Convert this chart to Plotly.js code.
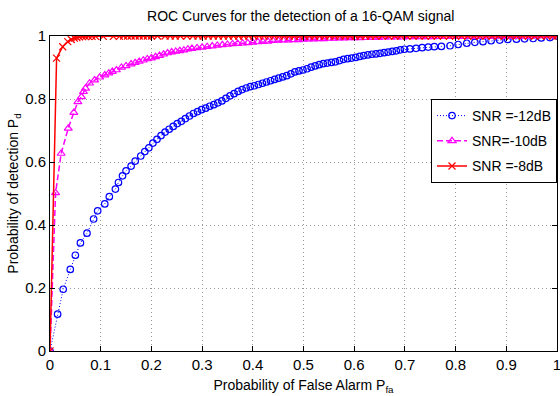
<!DOCTYPE html>
<html>
<head>
<meta charset="utf-8">
<script src="https://cdn.plot.ly/plotly-3.0.1.min.js"></script>
<style>html,body{margin:0;padding:0;background:#fff;}#chart{width:560px;height:396px;}</style>
</head>
<body>
<div id="chart"></div>
<script>
// SNR = -12 dB
const pfa12 = [0,0.015,0.026,0.040,0.050,0.060,0.073,0.086,0.094,0.108,0.117,0.129,0.135,0.143,0.150,0.160,0.168,0.179,0.187,0.195,0.203,0.211,0.219,0.227,0.235,0.243,0.251,0.259,0.267,0.275,0.283,0.291,0.299,0.307,0.315,0.323,0.331,0.339,0.347,0.355,0.363,0.371,0.379,0.387,0.395,0.403,0.411,0.419,0.427,0.435,0.443,0.451,0.459,0.467,0.475,0.483,0.491,0.499,0.507,0.515,0.523,0.531,0.539,0.547,0.555,0.563,0.571,0.579,0.587,0.595,0.603,0.611,0.619,0.627,0.635,0.643,0.651,0.659,0.667,0.675,0.683,0.691,0.699,0.710,0.722,0.734,0.746,0.758,0.772,0.789,0.805,0.822,0.838,0.854,0.870,0.887,0.903,0.920,0.936,0.953,0.969,0.986,1.000];
const pd12 = [0,0.117,0.196,0.259,0.304,0.343,0.374,0.419,0.445,0.467,0.490,0.514,0.535,0.556,0.572,0.587,0.603,0.619,0.633,0.645,0.660,0.672,0.684,0.695,0.704,0.713,0.722,0.729,0.738,0.746,0.754,0.760,0.766,0.771,0.777,0.782,0.788,0.794,0.802,0.810,0.817,0.824,0.830,0.835,0.839,0.842,0.846,0.850,0.854,0.858,0.862,0.866,0.870,0.874,0.880,0.886,0.889,0.892,0.896,0.901,0.905,0.909,0.912,0.914,0.916,0.918,0.922,0.926,0.928,0.930,0.932,0.935,0.938,0.940,0.942,0.943,0.945,0.947,0.949,0.951,0.953,0.956,0.958,0.959,0.961,0.963,0.965,0.966,0.967,0.969,0.973,0.977,0.980,0.982,0.985,0.987,0.989,0.990,0.991,0.992,0.994,0.995,1.000];

// SNR = -10 dB
const pfa10 = [0,0.011,0.022,0.036,0.047,0.055,0.062,0.066,0.070,0.078,0.088,0.098,0.108,0.116,0.123,0.131,0.141,0.150,0.160,0.168,0.176,0.184,0.192,0.200,0.208,0.216,0.224,0.232,0.240,0.248,0.256,0.264,0.272,0.280,0.290,0.300,0.310,0.320,0.330,0.340,0.350,0.360,0.370,0.380,0.390,0.400,0.410,0.420,0.430,0.440,0.450,0.460,0.470,0.480,0.490,0.500,0.510,0.520,0.530,0.540,0.550,0.560,0.570,0.580,0.590,0.600,0.612,0.624,0.636,0.648,0.660,0.672,0.684,0.696,0.708,0.720,0.732,0.744,0.756,0.768,0.780,0.792,0.804,0.816,0.828,0.840,0.852,0.864,0.876,0.888,0.900,0.912,0.924,0.936,0.948,0.960,0.972,0.984,1.000];
const pd10 = [0,0.502,0.627,0.707,0.757,0.791,0.807,0.823,0.834,0.850,0.860,0.869,0.876,0.882,0.887,0.892,0.900,0.905,0.911,0.915,0.919,0.923,0.927,0.930,0.934,0.938,0.942,0.946,0.949,0.951,0.953,0.955,0.958,0.960,0.962,0.964,0.966,0.968,0.970,0.972,0.973,0.975,0.976,0.977,0.978,0.980,0.981,0.982,0.983,0.985,0.986,0.987,0.987,0.988,0.988,0.989,0.990,0.990,0.991,0.991,0.992,0.992,0.993,0.993,0.994,0.994,0.994,0.995,0.995,0.995,0.996,0.996,0.996,0.996,0.997,0.997,0.997,0.997,0.997,0.998,0.998,0.998,0.998,0.998,0.998,0.998,0.999,0.999,0.999,0.999,0.999,0.999,0.999,0.999,0.999,1.000,1.000,1.000,1.000];

// SNR = -8 dB
const pfa8 = [0,0.013,0.025,0.035,0.042,0.048,0.053,0.058,0.064,0.070,0.076,0.083,0.090,0.105,0.125,0.137,0.145,0.153,0.160,0.168,0.176,0.184,0.192,0.200,0.212,0.227,0.237,0.247,0.257,0.270,0.282,0.292,0.302,0.312,0.322,0.332,0.342,0.352,0.362,0.372,0.382,0.392,0.402,0.412,0.422,0.432,0.442,0.452,0.462,0.472,0.482,0.492,0.502,0.512,0.522,0.532,0.542,0.552,0.562,0.572,0.582,0.592,0.602,0.612,0.622,0.632,0.642,0.655,0.668,0.680,0.692,0.704,0.716,0.728,0.740,0.752,0.764,0.776,0.788,0.800,0.812,0.824,0.836,0.848,0.860,0.872,0.884,0.896,0.908,0.920,0.932,0.944,0.956,0.968,0.980,0.992,1.000];
const pd8 = [0,0.930,0.966,0.982,0.989,0.993,0.995,0.997,0.998,0.998,0.999,0.999,0.999,0.999,0.999,0.999,1,1,1,1,1,1,1,1,1,1,1,1,1,1,1,1,1,1,1,1,1,1,1,1,1,1,1,1,1,1,1,1,1,1,1,1,1,1,1,1,1,1,1,1,1,1,1,1,1,1,1,1,1,1,1,1,1,1,1,1,1,1,1,1,1,1,1,1,1,1,1,1,1,1,1,1,1,1,1,1,1];

const seriesNames = ['SNR =-12dB', 'SNR=-10dB', 'SNR =-8dB'];
const titleText = 'ROC Curves for the detection of a 16-QAM signal';
const xTitle = 'Probability of False Alarm P<sub>fa</sub>';
const yTitle = 'Probability of detection P<sub>d</sub>';

const FONT = '"Liberation Sans", Arial, Helvetica, sans-serif';

const traces = [
  {x: pfa12, y: pd12, name: seriesNames[0], legendgroup: 'a', type: 'scatter', mode: 'lines+markers',
   line: {color: '#0000ff', width: 1, dash: '1px,2px'},
   marker: {symbol: 'circle-open', size: 6.5, color: '#0000ff', line: {width: 1.2, color: '#0000ff'}}},
  {x: pfa10, y: pd10, name: seriesNames[1], legendgroup: 'b', type: 'scatter', mode: 'lines+markers',
   line: {color: '#ff00ff', width: 1.5, dash: '6px,3px'},
   marker: {symbol: 'triangle-up-open', size: 7, color: '#ff00ff', line: {width: 1.2, color: '#ff00ff'}}},
  {x: pfa8, y: pd8, name: seriesNames[2], legendgroup: 'c', type: 'scatter', mode: 'lines+markers',
   line: {color: '#ff0000', width: 1.5},
   marker: {symbol: 'x-thin-open', size: 7, color: '#ff0000', line: {width: 1.2, color: '#ff0000'}}}
];

const axisCommon = {
  showline: true, linecolor: '#000', linewidth: 1, mirror: 'ticks',
  ticks: 'inside', ticklen: 5, tickcolor: '#000', tickwidth: 1,
  showgrid: true, gridcolor: '#9a9a9a', griddash: '1px,3px', gridwidth: 1,
  zeroline: false, ticklabeloverflow: 'allow',
  tickfont: {family: FONT, size: 15, color: '#000'}
};

const layout = {
  width: 560, height: 396,
  margin: {l: 50, r: 3, t: 36, b: 45},
  paper_bgcolor: '#fff', plot_bgcolor: '#fff',
  font: {family: FONT, color: '#000'},
  title: {text: titleText, font: {family: FONT, size: 14, color: '#000'},
          x: 0.537, xanchor: 'center', y: 0.96, yanchor: 'middle'},
  xaxis: Object.assign({}, axisCommon, {range: [0, 1], dtick: 0.1, tick0: 0,
    title: {text: xTitle, font: {family: FONT, size: 14, color: '#000'}, standoff: 8}}),
  yaxis: Object.assign({}, axisCommon, {range: [0, 1], dtick: 0.2, tick0: 0,
    title: {text: yTitle, font: {family: FONT, size: 14, color: '#000'}, standoff: 3}}),
  showlegend: true,
  legend: {x: 1, xanchor: 'right', y: 0.8, yanchor: 'top',
    bgcolor: '#fff', bordercolor: '#000', borderwidth: 1,
    font: {family: FONT, size: 14, color: '#000'}, itemwidth: 30,
    tracegroupgap: 4}
};

Plotly.newPlot('chart', traces, layout, {staticPlot: true, displayModeBar: false});
</script>
</body>
</html>
